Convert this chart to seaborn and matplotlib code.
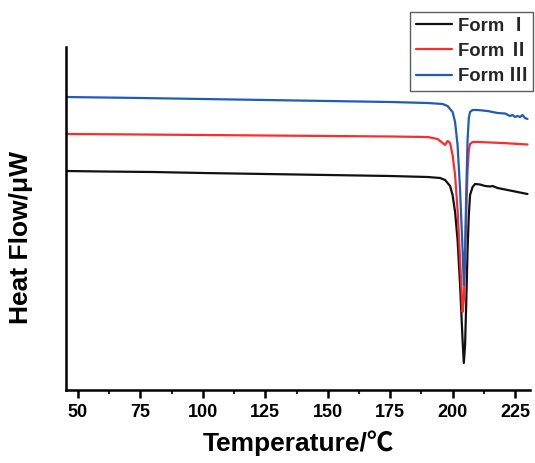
import numpy as np
import pandas as pd
import matplotlib
matplotlib.use("Agg")
import matplotlib.pyplot as plt
import seaborn as sns
from matplotlib.ticker import MultipleLocator
from matplotlib.lines import Line2D

sns.set_theme(style="white")
plt.rcParams['font.family'] = ['Liberation Sans', 'Noto Sans CJK SC', 'DejaVu Sans']

# Temperature (deg C) and heat flow (arbitrary units)
t_form1 = [45, 60, 80, 100, 125, 150, 175, 190, 195, 197, 199, 200, 201, 202, 203, 204, 204.5,
           205, 205.5, 206, 206.5, 207, 208, 209, 211, 213, 215, 216, 218, 222, 226, 230]
hf_form1 = [229, 228.5, 228, 227, 226, 225, 224, 223, 222, 220, 214, 205, 188, 160, 115, 60, 37,
            55, 100, 150, 185, 205, 213, 216, 215.5, 214, 213.5, 214, 212, 210, 208, 206]

t_form2 = [45, 75, 100, 125, 150, 175, 190, 194, 196, 197, 198, 199, 200, 201, 202, 203, 204,
           204.5, 205, 205.5, 206, 206.5, 207, 208, 210, 220, 230]
hf_form2 = [266, 265.5, 265, 264.5, 264, 263.5, 263, 261, 257, 255, 259, 257, 245, 225, 190, 140, 88,
            100, 140, 190, 230, 250, 256, 258, 258, 257, 255.5]

t_form3 = [45, 75, 100, 125, 150, 175, 190, 196, 198, 200, 201, 202, 203, 204, 204.5, 205, 205.5,
           206, 206.5, 207, 208, 210, 214, 218, 221, 223, 224, 225, 226, 227, 228, 229, 230]
hf_form3 = [303, 302, 301, 300, 299, 298, 297, 296, 294, 288, 278, 255, 210, 150, 115, 150, 210,
            260, 282, 288, 290, 290, 289, 287, 286.5, 284, 285, 283, 284, 283, 285, 282, 281]

labels = ["Form Ⅰ", "Form Ⅱ", "Form Ⅲ"]
colors = ["#111111", "#ff2a2a", "#1f5cb8"]

df = pd.concat([
    pd.DataFrame({"T": t_form1, "HF": hf_form1, "Form": labels[0]}),
    pd.DataFrame({"T": t_form2, "HF": hf_form2, "Form": labels[1]}),
    pd.DataFrame({"T": t_form3, "HF": hf_form3, "Form": labels[2]}),
])

fig = plt.figure(figsize=(5.35, 4.63), dpi=100)
ax = fig.add_axes([66/535, 1-390/463, (530-66)/535, (390-47)/463])
sns.lineplot(data=df, x="T", y="HF", hue="Form", palette=colors, estimator=None,
             sort=False, linewidth=1.6, ax=ax, legend=False)

ax.set_xlim(45.2, 231)
ax.set_ylim(10, 353)
ax.xaxis.set_major_locator(MultipleLocator(25))
ax.xaxis.set_minor_locator(MultipleLocator(12.5))
ax.set_yticks([])
for s in ["top", "right"]:
    ax.spines[s].set_visible(False)
for s in ["left", "bottom"]:
    ax.spines[s].set_color("black")
    ax.spines[s].set_linewidth(1.8)
ax.tick_params(axis="x", which="major", direction="out", length=6, width=1.8,
               bottom=True, labelsize=13, pad=4, colors="black")
ax.tick_params(axis="x", which="minor", direction="out", length=3, width=1.5, bottom=True)
for lbl in ax.get_xticklabels():
    lbl.set_fontweight("bold")
ax.set_xlabel("Temperature/℃", fontsize=19, fontweight="bold", labelpad=7, color="black")
ax.set_ylabel("Heat Flow/μW", fontsize=19, fontweight="bold", color="black")
ax.yaxis.set_label_coords(-0.072, 0.445)

handles = [Line2D([], [], color=c, lw=1.6) for c in colors]
leg = fig.legend(handles, labels, loc="upper left", bbox_to_anchor=(410/535, 1-12/463),
                 frameon=True, fancybox=False, edgecolor="#333333",
                 handlelength=2.0, handletextpad=0.3, borderpad=0.3, borderaxespad=0,
                 labelspacing=0.45, prop={"weight": "bold", "size": 13.3})
leg.get_frame().set_linewidth(1.0)

fig.savefig("out.png", dpi=100)
